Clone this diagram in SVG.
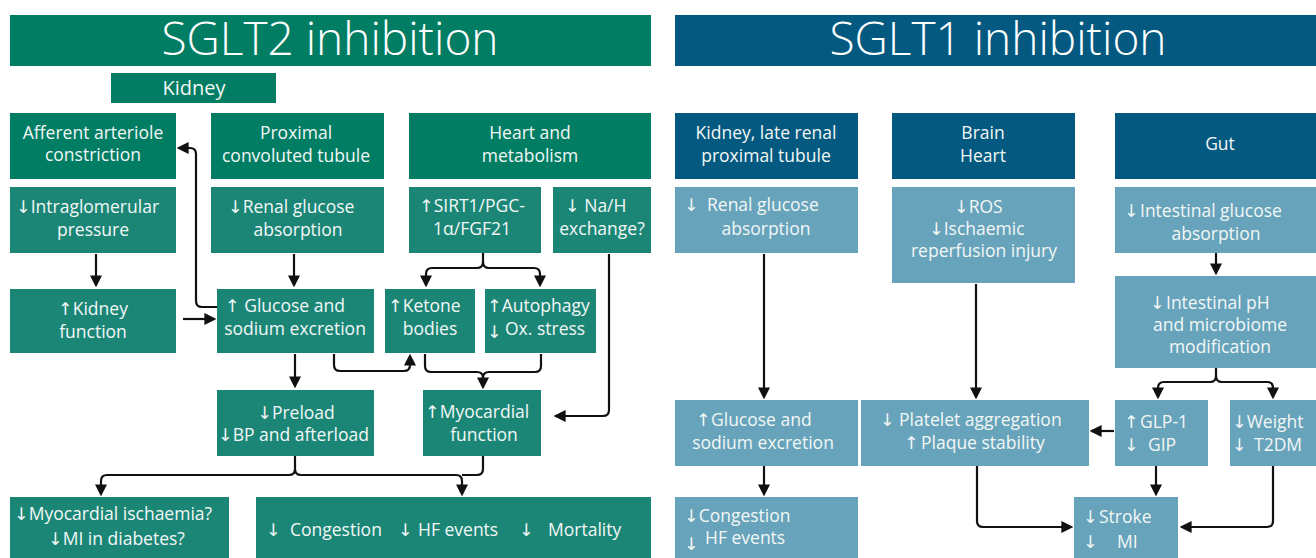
<svg xmlns="http://www.w3.org/2000/svg" width="1316" height="558" viewBox="0 0 1316 558">
<style>
text{font-family:"Open Sans","DejaVu Sans",sans-serif;fill:#f2f7f6;font-size:17.5px}
.c{text-anchor:middle}
.title{font-size:46px;font-weight:300;text-anchor:middle;fill:#ffffff}
.g1{fill:#017d63}
.g2{fill:#1b8676}
.b1{fill:#03597f}
.b2{fill:#67a3bb}
.conn path{fill:none;stroke:#111;stroke-width:2.2;stroke-linejoin:round}
</style>
<defs>
<marker id="ah" markerUnits="userSpaceOnUse" markerWidth="12" markerHeight="12" viewBox="0 0 10 10" refX="8" refY="5" orient="auto">
<path d="M0,0 L10,5 L0,10 z" fill="#111"/>
</marker>
</defs>
<rect width="1316" height="558" fill="#ffffff"/>

<g id="title-sglt2"><rect x="10" y="15" width="641" height="51" class="g1"/><text class="title" x="330" y="55">SGLT2 inhibition</text></g>
<g id="title-sglt1"><rect x="675" y="15" width="641" height="51" class="b1"/><text class="title" x="998" y="55">SGLT1 inhibition</text></g>
<g id="kidney-label"><rect x="111" y="73" width="165" height="30" class="g1"/><text class="c" x="194" y="95" style="font-size:20px">Kidney</text></g>

<g id="afferent"><rect x="10" y="113" width="166" height="66" class="g1"/><text class="c" x="93" y="139">Afferent arteriole</text><text class="c" x="93" y="161">constriction</text></g>
<g id="proximal"><rect x="211" y="113" width="173" height="66" class="g1"/><text class="c" x="296" y="139">Proximal</text><text class="c" x="296" y="162">convoluted tubule</text></g>
<g id="heart-metab"><rect x="409" y="113" width="242" height="66" class="g1"/><text class="c" x="530" y="139">Heart and</text><text class="c" x="530" y="162">metabolism</text></g>

<g id="intraglom"><rect x="10" y="187" width="166" height="66" class="g2"/><text x="16" y="213">↓Intraglomerular</text><text class="c" x="93" y="236">pressure</text></g>
<g id="renal-glucose"><rect x="211" y="187" width="173" height="66" class="g2"/><text x="228" y="213">↓Renal glucose</text><text class="c" x="298" y="236">absorption</text></g>
<g id="sirt"><rect x="409" y="187" width="132" height="66" class="g2"/><text x="419" y="212">↑SIRT1/PGC-</text><text class="c" x="472" y="235">1α/FGF21</text></g>
<g id="nah"><rect x="553" y="187" width="98" height="66" class="g2"/><text x="565" y="212">↓ Na/H</text><text class="c" x="602" y="235">exchange?</text></g>

<g id="kidney-fn"><rect x="10" y="289" width="166" height="64" class="g2"/><text class="c" x="93" y="315">↑Kidney</text><text class="c" x="93" y="338">function</text></g>
<g id="glucose-exc"><rect x="217" y="289" width="157" height="64" class="g2"/><text x="225" y="312">↑ Glucose and</text><text class="c" x="295" y="335">sodium excretion</text></g>
<g id="ketone"><rect x="385" y="289" width="90" height="64" class="g2"/><text x="388" y="312">↑Ketone</text><text class="c" x="430" y="335">bodies</text></g>
<g id="autophagy"><rect x="485" y="289" width="111" height="64" class="g2"/><text x="487" y="312">↑Autophagy</text><text x="487" y="338">↓</text><text x="505" y="335">Ox. stress</text></g>

<g id="preload"><rect x="217" y="390" width="157" height="66" class="g2"/><text class="c" x="296" y="419">↓Preload</text><text x="218" y="441">↓BP and afterload</text></g>
<g id="myocardial"><rect x="423" y="390" width="118" height="66" class="g2"/><text x="425" y="418">↑Myocardial</text><text class="c" x="484" y="441">function</text></g>

<g id="ischaemia"><rect x="10" y="497" width="219" height="61" class="g2"/><text x="14" y="520">↓Myocardial ischaemia?</text><text x="48" y="545">↓MI in diabetes?</text></g>
<g id="outcomes-l"><rect x="256" y="497" width="395" height="61" class="g2"/><text y="536"><tspan x="266">↓</tspan><tspan x="290">Congestion</tspan><tspan x="398">↓</tspan><tspan x="418">HF events</tspan><tspan x="519">↓</tspan><tspan x="548">Mortality</tspan></text></g>

<g id="kidney-late"><rect x="675" y="113" width="183" height="66" class="b1"/><text class="c" x="766" y="139">Kidney, late renal</text><text class="c" x="766" y="162">proximal tubule</text></g>
<g id="brain-heart"><rect x="892" y="113" width="183" height="66" class="b1"/><text class="c" x="983" y="139">Brain</text><text class="c" x="983" y="162">Heart</text></g>
<g id="gut"><rect x="1115" y="113" width="201" height="66" class="b1"/><text class="c" x="1220" y="150">Gut</text></g>

<g id="renal-glucose-r"><rect x="675" y="187" width="183" height="66" class="b2"/><text y="211"><tspan x="684">↓</tspan><tspan x="707">Renal glucose</tspan></text><text class="c" x="766" y="235">absorption</text></g>
<g id="ros"><rect x="892" y="187" width="183" height="96" class="b2"/><text x="954" y="213">↓ROS</text><text x="929" y="235">↓Ischaemic</text><text class="c" x="984" y="257">reperfusion injury</text></g>
<g id="intestinal-glucose"><rect x="1115" y="187" width="201" height="66" class="b2"/><text y="217"><tspan x="1124">↓</tspan><tspan x="1140">Intestinal glucose</tspan></text><text class="c" x="1216" y="240">absorption</text></g>
<g id="intestinal-ph"><rect x="1115" y="276" width="201" height="92" class="b2"/><text y="309"><tspan x="1150">↓</tspan><tspan x="1166">Intestinal pH</tspan></text><text class="c" x="1220" y="331">and microbiome</text><text class="c" x="1220" y="353">modification</text></g>

<g id="glucose-exc-r"><rect x="675" y="400" width="183" height="66" class="b2"/><text y="426"><tspan x="696">↑</tspan><tspan x="711">Glucose and</tspan></text><text class="c" x="763" y="449">sodium excretion</text></g>
<g id="platelet"><rect x="861" y="400" width="228" height="66" class="b2"/><text y="426"><tspan x="880">↓</tspan><tspan x="899">Platelet aggregation</tspan></text><text y="449"><tspan x="904">↑</tspan><tspan x="921">Plaque stability</tspan></text></g>
<g id="glp"><rect x="1115" y="400" width="93" height="66" class="b2"/><text y="428"><tspan x="1124">↑</tspan><tspan x="1140">GLP-1</tspan></text><text y="451"><tspan x="1124">↓</tspan><tspan x="1148">GIP</tspan></text></g>
<g id="weight"><rect x="1230" y="400" width="86" height="66" class="b2"/><text x="1232" y="428">↓Weight</text><text y="451"><tspan x="1232">↓</tspan><tspan x="1254">T2DM</tspan></text></g>

<g id="outcomes-r"><rect x="675" y="497" width="183" height="61" class="b2"/><text x="684" y="522">↓Congestion</text><text x="684" y="550">↓</text><text x="705" y="544">HF events</text></g>
<g id="stroke"><rect x="1074" y="497" width="104" height="61" class="b2"/><text y="523"><tspan x="1083">↓</tspan><tspan x="1099">Stroke</tspan></text><text y="548"><tspan x="1083">↓</tspan><tspan x="1117">MI</tspan></text></g>

<g class="conn" id="connectors">
<path d="M96,254 V285" marker-end="url(#ah)"/>
<path d="M183,319 H214" marker-end="url(#ah)"/>
<path d="M217,307 H202 Q196,307 196,301 V154 Q196,148 190,148 H179" marker-end="url(#ah)"/>
<path d="M294,254 V285" marker-end="url(#ah)"/>
<path d="M483,253 V262 Q483,268 477,268 H432 Q426,268 426,274 V285" marker-end="url(#ah)"/>
<path d="M483,262 Q483,268 489,268 H534 Q540,268 540,274 V285" marker-end="url(#ah)"/>
<path d="M609,254 V410 Q609,416 603,416 H556" marker-end="url(#ah)"/>
<path d="M295,354 V386" marker-end="url(#ah)"/>
<path d="M334,354 V365 Q334,371 340,371 H404 Q410,371 410,365 V356" marker-end="url(#ah)"/>
<path d="M425,354 V366 Q425,372 431,372 H477 Q483,372 483,378 V387" marker-end="url(#ah)"/>
<path d="M541,354 V366 Q541,372 535,372 H489 Q483,372 483,378"/>
<path d="M295,456 V469 Q295,475 289,475 H107 Q101,475 101,481 V494" marker-end="url(#ah)"/>
<path d="M295,469 Q295,475 301,475 H456 Q462,475 462,481 V494" marker-end="url(#ah)"/>
<path d="M483,456 V469 Q483,475 477,475 H462"/>
<path d="M764,254 V397" marker-end="url(#ah)"/>
<path d="M764,466 V494" marker-end="url(#ah)"/>
<path d="M976,284 V397" marker-end="url(#ah)"/>
<path d="M1216,253 V273" marker-end="url(#ah)"/>
<path d="M1216,368 V376 Q1216,382 1210,382 H1164 Q1158,382 1158,388 V397" marker-end="url(#ah)"/>
<path d="M1216,376 Q1216,382 1222,382 H1267 Q1273,382 1273,388 V397" marker-end="url(#ah)"/>
<path d="M1114,431 H1092" marker-end="url(#ah)"/>
<path d="M1156,466 V494" marker-end="url(#ah)"/>
<path d="M1273,466 V521 Q1273,527 1267,527 H1182" marker-end="url(#ah)"/>
<path d="M977,466 V521 Q977,527 983,527 H1071" marker-end="url(#ah)"/>
</g>
</svg>
